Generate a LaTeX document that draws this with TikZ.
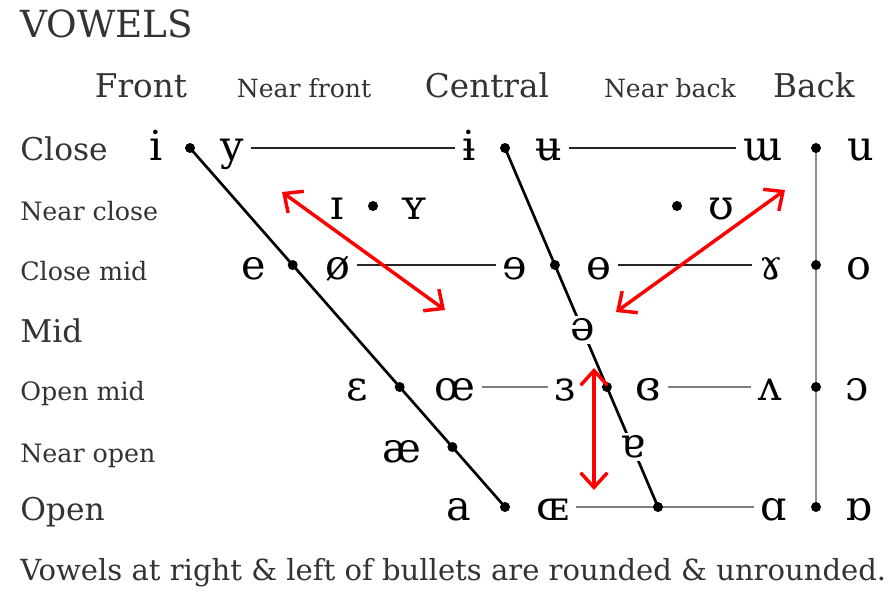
\documentclass[tikz,border=0pt]{standalone}
\usepackage{fontspec}
\setmainfont{DejaVu Serif}
\usetikzlibrary{arrows.meta, backgrounds}

\begin{document}
\begin{tikzpicture}[x=0.75pt, y=-0.75pt,
  vowel/.style={anchor=base, inner sep=2pt, font=\fontsize{31}{34}\selectfont},
  dot/.style={circle, fill=black, inner sep=0pt, minimum size=7.5pt},
  rowbig/.style={anchor=base west, inner sep=0pt, text=black!80, font=\fontsize{23.5}{27}\selectfont},
  rowsmall/.style={anchor=base west, inner sep=0pt, text=black!80, font=\fontsize{19}{22}\selectfont},
  colbig/.style={anchor=base, inner sep=0pt, text=black!80, font=\fontsize{24.5}{28}\selectfont},
  colsmall/.style={anchor=base, inner sep=0pt, text=black!80, font=\fontsize{18.8}{22}\selectfont},
  link/.style={line width=2pt, black!85, shorten <=3pt, shorten >=3pt},
  faint/.style={line width=2pt, black!50, shorten <=3pt, shorten >=3pt},
  hint/.style={red, line width=2.6pt, {Straight Barb[length=11pt,width=20pt]}-{Straight Barb[length=11pt,width=20pt]}}]
  \useasboundingbox (0,0) rectangle (889,593);

  % titles
  \node[anchor=base west, inner sep=0pt, text=black!80, font=\fontsize{28}{32}\selectfont] (title) at (20,37) {VOWELS};
  \node[colbig] (c-front) at (141,97) {Front};
  \node[colsmall] (c-nfront) at (304,97) {Near front};
  \node[colbig] (c-central) at (487,97) {Central};
  \node[colsmall] (c-nback) at (670,97) {Near back};
  \node[colbig] (c-back) at (814,97) {Back};

  \node[rowbig] (r-close) at (20,160) {Close};
  \node[rowsmall] (r-nclose) at (20,220) {Near close};
  \node[rowsmall] (r-cmid) at (20,280) {Close mid};
  \node[rowbig] (r-mid) at (20,342) {Mid};
  \node[rowsmall] (r-omid) at (20,400) {Open mid};
  \node[rowsmall] (r-nopen) at (20,462) {Near open};
  \node[rowbig] (r-open) at (20,520) {Open};

  % bullets
  \node[dot] (b-cf) at (190,148) {};
  \node[dot] (b-cc) at (505,148) {};
  \node[dot] (b-cb) at (816,148) {};
  \node[dot] (b-nf) at (373,206) {};
  \node[dot] (b-nb) at (677,206) {};
  \node[dot] (b-mf) at (292.7,265) {};
  \node[dot] (b-mc) at (554.9,265) {};
  \node[dot] (b-mb) at (816,265) {};
  \node[dot] (b-of) at (399.7,387) {};
  \node[dot] (b-oc) at (606.9,387) {};
  \node[dot] (b-ob) at (816,387) {};
  \node[dot] (b-nof) at (452.4,447) {};
  \node[dot] (b-af) at (505,507) {};
  \node[dot] (b-ac) at (658,507) {};
  \node[dot] (b-ab) at (816,507) {};

  % close
  \node[vowel] (v-i) at (156,160) {i};
  \node[vowel] (v-y) at (232,160) {y};
  \node[vowel] (v-ibar) at (469,160) {ɨ};
  \node[vowel] (v-ubar) at (549,160) {ʉ};
  \node[vowel] (v-turnm) at (763,160) {ɯ};
  \node[vowel] (v-u) at (861,160) {u};
  % near close
  \node[vowel] (v-capi) at (337,219) {ɪ};
  \node[vowel] (v-capy) at (414,219) {ʏ};
  \node[vowel] (v-hshoe) at (721,219) {ʊ};
  % close mid
  \node[vowel] (v-e) at (254,279) {e};
  \node[vowel] (v-oslash) at (338,279) {ø};
  \node[vowel] (v-reve) at (515,279) {ɘ};
  \node[vowel] (v-obar) at (599,279) {ɵ};
  \node[vowel] (v-ramshorn) at (771,279) {ɤ};
  \node[vowel] (v-o) at (859,279) {o};
  % mid
  \node[vowel, anchor=center, fill=white] (v-schwa) at (582.6,330) {ə};
  % open mid
  \node[vowel] (v-eps) at (357,400) {ɛ};
  \node[vowel] (v-oe) at (455,400) {œ};
  \node[vowel] (v-reveps) at (565,400) {ɜ};
  \node[vowel] (v-closeps) at (648,400) {ɞ};
  \node[vowel] (v-turnv) at (770,400) {ʌ};
  \node[vowel] (v-openo) at (857,400) {ɔ};
  % near open
  \node[vowel] (v-ae) at (402,462) {æ};
  \node[vowel, anchor=center, fill=white] (v-turna) at (632.4,447) {ɐ};
  % open
  \node[vowel] (v-a) at (459,520) {a};
  \node[vowel] (v-smalloe) at (553,520) {ɶ};
  \node[vowel] (v-alpha) at (774,520) {ɑ};
  \node[vowel] (v-turnalpha) at (859,520) {ɒ};

  \begin{scope}[on background layer]
    \draw[line width=2pt] (b-cf.center) -- (b-af.center);
    \draw[line width=2pt] (b-cc.center) -- (b-ac.center);
    \draw[line width=2pt, black!45] (b-cb.center) -- (b-ab.center);
    \draw[link] (v-y.east |- b-cc) -- (v-ibar.west |- b-cc);
    \draw[link] (v-ubar.east |- b-cc) -- (v-turnm.west |- b-cc);
    \draw[link] (v-oslash.east |- b-mc) -- (v-reve.west |- b-mc);
    \draw[link] (v-obar.east |- b-mc) -- (v-ramshorn.west |- b-mc);
    \draw[faint] (v-oe.east |- b-oc) -- (v-reveps.west |- b-oc);
    \draw[faint] (v-closeps.east |- b-oc) -- (v-turnv.west |- b-oc);
    \draw[faint] (v-smalloe.east |- b-ac) -- (v-alpha.west |- b-ac);
  \end{scope}

  % red arrows
  \coordinate (h1a) at (282,192);
  \coordinate (h1b) at (445,310);
  \coordinate (h2a) at (785,190);
  \coordinate (h2b) at (616,312);
  \coordinate (h3a) at (594,368);
  \coordinate (h3b) at (594,490);
  \draw[hint] (h1a) -- (h1b);
  \draw[hint] (h2a) -- (h2b);
  \draw[hint] (h3a) -- (h3b);

  \node[anchor=base west, inner sep=0pt, text=black!80, font=\fontsize{21.8}{25}\selectfont] (note) at (20,580)
    {Vowels at right \& left of bullets are rounded \& unrounded.};
\end{tikzpicture}
\end{document}
